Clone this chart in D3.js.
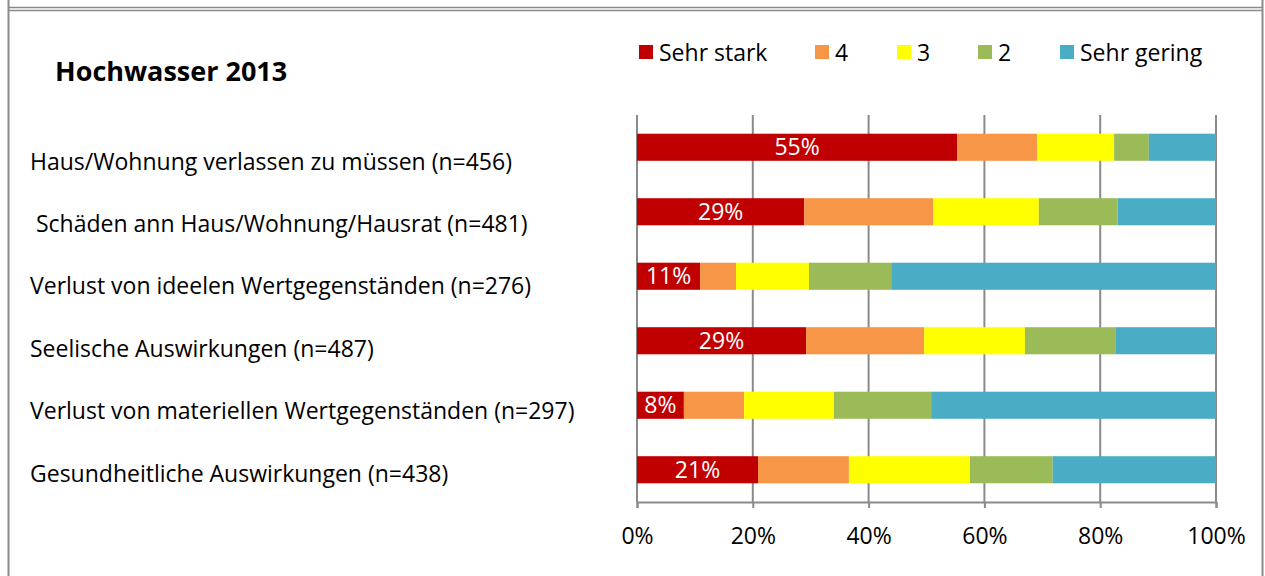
<!DOCTYPE html>
<html>
<head>
<meta charset="utf-8">
<script src="https://cdn.jsdelivr.net/npm/d3@7"></script>
<style>
  body { margin: 0; background: #fff; }
  svg text { font-family: "Open Sans", sans-serif; fill: #000; }
</style>
</head>
<body>
<div id="chart"></div>
<script>
// data (percent of answers per row)
const categories = [
  "Haus/Wohnung verlassen zu müssen (n=456)",
  " Schäden ann Haus/Wohnung/Hausrat (n=481)",
  "Verlust von ideelen Wertgegenständen (n=276)",
  "Seelische Auswirkungen (n=487)",
  "Verlust von materiellen Wertgegenständen (n=297)",
  "Gesundheitliche Auswirkungen (n=438)"
];
const seriesNames = ["Sehr stark", "4", "3", "2", "Sehr gering"];
const sehrStark  = [55.3, 28.9, 10.9, 29.2,  8.1, 20.9];
const vier       = [13.8, 22.3,  6.2, 20.4, 10.4, 15.7];
const drei       = [13.3, 18.2, 12.6, 17.4, 15.5, 20.9];
const zwei       = [ 6.0, 13.6, 14.2, 15.6, 16.8, 14.3];
const sehrGering = [11.6, 17.0, 56.1, 17.4, 49.2, 28.2];
const colors = ["#C00000", "#F79646", "#FFFF00", "#9BBB59", "#4BACC6"];
const tickValues = [0, 20, 40, 60, 80, 100];

const W = 1265, H = 576;
const plot = {left: 637, right: 1216, top: 115, bottom: 502};
const fs = "23px";

const svg = d3.select("#chart").append("svg")
  .attr("width", W)
  .attr("height", H);

// frame
svg.append("rect").attr("width", W).attr("height", H).attr("fill", "#fff");
svg.append("line").attr("x1", 8).attr("x2", 1262).attr("y1", 7.5).attr("y2", 7.5)
  .attr("stroke", "#8a8a8a").attr("stroke-width", 1.5);
svg.append("line").attr("x1", 8).attr("x2", 1262).attr("y1", 10.5).attr("y2", 10.5)
  .attr("stroke", "#8a8a8a").attr("stroke-width", 1.5);
svg.append("line").attr("x1", 8.5).attr("x2", 8.5).attr("y1", 0).attr("y2", H)
  .attr("stroke", "#8a8a8a").attr("stroke-width", 2);
svg.append("line").attr("x1", 1262.5).attr("x2", 1262.5).attr("y1", 0).attr("y2", H)
  .attr("stroke", "#8a8a8a").attr("stroke-width", 2);

// title
svg.append("text")
  .attr("x", 55).attr("y", 81)
  .style("font-size", "27px").style("font-weight", "bold")
  .text("Hochwasser 2013");

// stack the rows
const rows = categories.map((c, i) => ({
  cat: c,
  "Sehr stark": sehrStark[i], "4": vier[i], "3": drei[i], "2": zwei[i], "Sehr gering": sehrGering[i]
}));
rows.forEach(r => {
  const tot = d3.sum(seriesNames, k => r[k]);
  seriesNames.forEach(k => r[k] = r[k] / tot * 100);
});
const stacked = d3.stack().keys(seriesNames)(rows);

const x = d3.scaleLinear().domain([0, 100]).range([plot.left, plot.right]);
const y = d3.scaleBand().domain(categories).range([plot.top, plot.bottom]).paddingInner(0.58).paddingOuter(0.29);
// the category texts sit a bit apart from the bars, closer together
const yLabel = d3.scalePoint().domain(categories).range([161.5, 473.5]);
const color = d3.scaleOrdinal().domain(seriesNames).range(colors);

// gridlines
svg.append("g")
  .selectAll("line")
  .data(tickValues)
  .join("line")
  .attr("x1", d => x(d)).attr("x2", d => x(d))
  .attr("y1", plot.top).attr("y2", plot.bottom)
  .attr("stroke", "#8a8a8a").attr("stroke-width", 2);

// bars
svg.append("g")
  .selectAll("g")
  .data(stacked)
  .join("g")
  .attr("fill", d => color(d.key))
  .selectAll("rect")
  .data(d => d)
  .join("rect")
  .attr("x", d => x(d[0]))
  .attr("y", d => y(d.data.cat))
  .attr("width", d => x(d[1]) - x(d[0]))
  .attr("height", y.bandwidth());

// labels in the red part
svg.append("g")
  .selectAll("text")
  .data(stacked[0])
  .join("text")
  .attr("x", d => (x(d[0]) + x(d[1])) / 2)
  .attr("y", d => y(d.data.cat) + y.bandwidth() / 2)
  .attr("dy", "0.35em")
  .attr("text-anchor", "middle")
  .style("font-size", fs)
  .style("fill", "#fff")
  .text(d => Math.round(d[1] - d[0]) + "%");

// x axis
const xAxis = svg.append("g")
  .attr("transform", `translate(0,${plot.bottom})`)
  .call(d3.axisBottom(x).tickValues(tickValues).tickSize(6).tickFormat(d => d + "%"));
xAxis.select(".domain").attr("stroke", "#8a8a8a").attr("stroke-width", 2);
xAxis.selectAll(".tick line").attr("stroke", "#8a8a8a").attr("stroke-width", 2);
xAxis.selectAll(".tick text")
  .attr("y", 26)
  .style("font-size", fs)
  .style("font-family", "'Open Sans', sans-serif")
  .attr("fill", "#000");

// category labels
svg.append("g")
  .selectAll("text")
  .data(categories)
  .join("text")
  .attr("x", 30)
  .attr("y", d => yLabel(d))
  .attr("dy", "0.35em")
  .style("font-size", fs)
  .style("white-space", "pre")
  .text(d => d);

// legend
const legendX = [639, 815, 897, 978, 1060];
const legend = svg.append("g")
  .selectAll("g")
  .data(seriesNames)
  .join("g")
  .attr("transform", (d, i) => `translate(${legendX[i]},45)`);
legend.append("rect")
  .attr("width", 14).attr("height", 14)
  .attr("fill", d => color(d));
legend.append("text")
  .attr("x", 20).attr("y", 8)
  .attr("dy", "0.35em")
  .style("font-size", fs)
  .text(d => d);
</script>
</body>
</html>
